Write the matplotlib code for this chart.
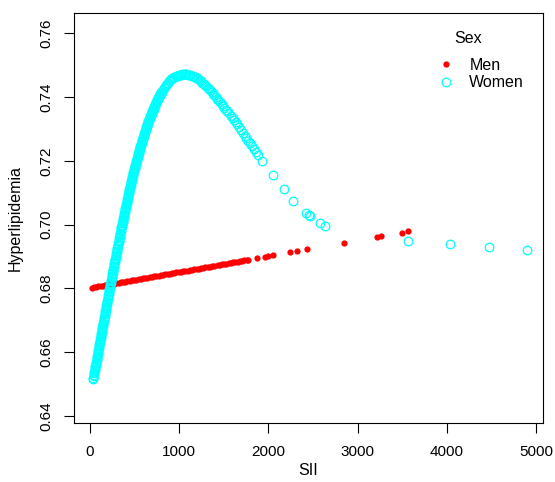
import numpy as np
import matplotlib
matplotlib.use('Agg')
import matplotlib.pyplot as plt

plt.rcParams['font.family'] = ['Liberation Sans', 'DejaVu Sans']

# DATA

men_x = [20, 45, 70, 95, 120, 145, 170, 195, 220, 245, 270, 295, 320, 345, 370, 395,
         420, 445, 470, 495, 520, 545, 570, 595, 620, 645, 670, 695, 720, 745, 770, 795,
         820, 845, 870, 895, 920, 945, 970, 995, 1020, 1045, 1070, 1095, 1120, 1145, 1170,
         1195, 1220, 1245, 1270, 1295, 1320, 1345, 1370, 1395, 1430, 1455, 1480, 1505, 1530,
         1555, 1580, 1605, 1630, 1655, 1680, 1705, 1730, 1755, 1775,
         1876, 1962, 2000, 2055, 2246, 2317, 2429, 2848, 3214, 3266, 3498, 3565]
men_y = [0.68030, 0.68042, 0.68055, 0.68067, 0.68080, 0.68092, 0.68104, 0.68117, 0.68129,
         0.68142, 0.68154, 0.68166, 0.68179, 0.68191, 0.68204, 0.68216, 0.68228, 0.68241,
         0.68253, 0.68266, 0.68278, 0.68290, 0.68303, 0.68315, 0.68328, 0.68340, 0.68352,
         0.68365, 0.68377, 0.68390, 0.68402, 0.68414, 0.68427, 0.68439, 0.68452, 0.68464,
         0.68476, 0.68489, 0.68501, 0.68514, 0.68526, 0.68538, 0.68551, 0.68563, 0.68576,
         0.68588, 0.68600, 0.68613, 0.68625, 0.68638, 0.68650, 0.68662, 0.68675, 0.68687,
         0.68700, 0.68712, 0.68729, 0.68742, 0.68754, 0.68766, 0.68779, 0.68791, 0.68804,
         0.68816, 0.68828, 0.68841, 0.68853, 0.68866, 0.68878, 0.68890, 0.68900,
         0.68950, 0.68993, 0.69012, 0.69039, 0.69134, 0.69169, 0.69225, 0.69433, 0.69614,
         0.69640, 0.69755, 0.69788]

women_x = [35, 38, 41, 44, 47, 50, 53, 56, 59, 62, 65, 68, 71, 74, 77, 80, 83, 86, 89, 92,
           95, 98, 101, 104, 107, 110, 113, 116, 119, 122, 125, 128, 131, 134, 137, 140, 143,
           146, 149, 152, 155, 158, 161, 164, 167, 170, 173, 176, 179, 182, 185, 188, 191,
           194, 197, 200, 203, 206, 209, 212, 215, 218, 221, 224, 227, 230, 233, 236, 239,
           242, 245, 248, 251, 254, 257, 260, 263, 266, 269, 272, 275, 278, 281, 284, 287,
           290, 293, 296, 299, 302, 305, 308, 311, 314, 317, 320, 323, 326, 329, 332, 335,
           338, 341, 344, 347, 350, 353, 356, 359, 362, 365, 368, 371, 374, 377, 380, 383,
           386, 389, 392, 395, 398, 401, 404, 407, 410, 413, 416, 419, 422, 425, 428, 431,
           434, 437, 440, 443, 446, 449, 452, 455, 458, 461, 464, 467, 470, 473, 476, 479,
           482, 485, 488, 491, 494, 497, 500, 503,
           506, 509, 512, 515, 518, 521, 524, 527, 530, 533, 536, 539, 542, 545, 548, 551,
           554, 557, 560, 563, 566, 569, 572, 575, 578, 581, 584, 587, 590, 593, 596, 599,
           602, 605, 608, 611, 614, 617, 620, 623, 626, 629, 632, 635, 638, 641, 644, 647,
           650, 653, 656, 659, 662, 665, 668, 671, 674, 677, 680, 683, 686, 689, 692, 695,
           698, 701, 704, 707, 710, 713, 716, 719, 722, 725, 728, 731, 734, 737, 740, 743,
           746, 749, 752, 755, 758, 761, 764, 767, 770, 773, 776, 779, 782, 785, 788, 791,
           794, 797, 800, 803,
           815, 827, 839, 851, 863, 875, 887, 899, 911, 923, 935, 947, 959, 971, 983, 995,
           1007, 1019, 1034, 1049, 1065,
           1080, 1095, 1110, 1125, 1140, 1155, 1170, 1185, 1200, 1215, 1230, 1245, 1260,
           1275, 1290, 1305, 1320, 1335, 1350, 1365, 1380, 1395,
           1410, 1425, 1440, 1458, 1475, 1490, 1505, 1522, 1540, 1560, 1580, 1600, 1615,
           1632, 1650, 1668, 1690, 1712, 1735, 1752, 1770, 1790, 1812, 1835, 1858, 1880,
           1932, 2055, 2175, 2280, 2421, 2451, 2466, 2578, 2638, 3569, 4032, 4470, 4899]
women_y = [0.65150, 0.65197, 0.65243, 0.65290, 0.65336, 0.65383, 0.65429, 0.65476, 0.65522,
           0.65569, 0.65615, 0.65662, 0.65708, 0.65755, 0.65801, 0.65848, 0.65894, 0.65941,
           0.65987, 0.66034, 0.66080, 0.66127, 0.66173, 0.66220, 0.66266, 0.66313, 0.66359,
           0.66406, 0.66452, 0.66499, 0.66545, 0.66592, 0.66638, 0.66685, 0.66731, 0.66778,
           0.66824, 0.66871, 0.66917, 0.66964, 0.67010, 0.67057, 0.67103, 0.67150, 0.67196,
           0.67243, 0.67289, 0.67336, 0.67382, 0.67429, 0.67475, 0.67522, 0.67568, 0.67615,
           0.67661, 0.67708, 0.67751, 0.67795, 0.67838, 0.67882, 0.67925, 0.67969, 0.68012,
           0.68056, 0.68099, 0.68143, 0.68186, 0.68230, 0.68273, 0.68317, 0.68360, 0.68404,
           0.68447, 0.68491, 0.68534, 0.68578, 0.68621, 0.68665, 0.68708, 0.68752, 0.68795,
           0.68839, 0.68882, 0.68926, 0.68969, 0.69013, 0.69056, 0.69100, 0.69143, 0.69187,
           0.69230, 0.69274, 0.69317, 0.69361, 0.69404, 0.69448, 0.69491, 0.69535, 0.69578,
           0.69622, 0.69665, 0.69709, 0.69752, 0.69796, 0.69839, 0.69883, 0.69923, 0.69962,
           0.70002, 0.70041, 0.70081, 0.70121, 0.70160, 0.70200, 0.70239, 0.70279, 0.70319,
           0.70358, 0.70398, 0.70437, 0.70477, 0.70517, 0.70556, 0.70596, 0.70635, 0.70675,
           0.70715, 0.70754, 0.70794, 0.70833, 0.70873, 0.70913, 0.70952, 0.70992, 0.71031,
           0.71071, 0.71111, 0.71150, 0.71190, 0.71225, 0.71260, 0.71295, 0.71330, 0.71366,
           0.71401, 0.71436, 0.71471, 0.71506, 0.71541, 0.71576, 0.71611, 0.71646, 0.71681,
           0.71716, 0.71752, 0.71787, 0.71822,
           0.71854, 0.71885, 0.71917, 0.71948, 0.71980, 0.72011, 0.72043, 0.72074, 0.72106,
           0.72137, 0.72169, 0.72200, 0.72232, 0.72263, 0.72295, 0.72326, 0.72353, 0.72380,
           0.72407, 0.72434, 0.72461, 0.72488, 0.72515, 0.72542, 0.72569, 0.72596, 0.72623,
           0.72650, 0.72677, 0.72704, 0.72731, 0.72758, 0.72785, 0.72812, 0.72839, 0.72866,
           0.72893, 0.72920, 0.72947, 0.72974, 0.73001, 0.73028, 0.73055, 0.73082, 0.73109,
           0.73136, 0.73163, 0.73190, 0.73211, 0.73231, 0.73252, 0.73272, 0.73293, 0.73313,
           0.73334, 0.73354, 0.73375, 0.73395, 0.73416, 0.73436, 0.73457, 0.73477, 0.73498,
           0.73518, 0.73539, 0.73559, 0.73580, 0.73600, 0.73621, 0.73641, 0.73662, 0.73682,
           0.73703, 0.73723, 0.73744, 0.73764, 0.73785, 0.73805, 0.73826, 0.73846, 0.73867,
           0.73887, 0.73903, 0.73919, 0.73935, 0.73951, 0.73967, 0.73983, 0.73999, 0.74015,
           0.74031, 0.74047, 0.74063, 0.74079, 0.74095, 0.74111, 0.74127, 0.74143, 0.74159,
           0.74175,
           0.7423, 0.7428, 0.7433, 0.7438, 0.7442, 0.7446, 0.7450, 0.7453, 0.7456, 0.7459,
           0.7461, 0.7463, 0.7465, 0.7467, 0.7468, 0.7469, 0.7470, 0.7471, 0.7472, 0.7472,
           0.7472,
           0.7472, 0.7471, 0.7470, 0.7469, 0.7468, 0.7466, 0.7464, 0.7462, 0.7459, 0.7456,
           0.7453, 0.7450, 0.7446, 0.7442, 0.7438, 0.7434, 0.7430, 0.7425, 0.7421, 0.7416,
           0.7411, 0.7406,
           0.7401, 0.7395, 0.7390, 0.7384, 0.7378, 0.7373, 0.7367, 0.7361, 0.7356, 0.7349,
           0.7342, 0.7335, 0.7328, 0.7322, 0.7315, 0.7307, 0.7298, 0.7289, 0.7279, 0.7272,
           0.7264, 0.7255, 0.7246, 0.7236, 0.7227, 0.7218,
           0.7201, 0.7156, 0.7111, 0.7075, 0.7038, 0.7031, 0.7027, 0.7004, 0.6996, 0.6950,
           0.6939, 0.6929, 0.6921]

x_ticks = [0, 1000, 2000, 3000, 4000, 5000]
y_ticks = [0.64, 0.66, 0.68, 0.70, 0.72, 0.74, 0.76]

# FIGURE

fig = plt.figure(figsize=(5.55, 4.82), dpi=100)
ax = fig.add_axes([0.1333, 0.1224, 0.8451, 0.8506])

ax.plot(men_x, men_y, 'o', color='#ff0000', markersize=4.5, markeredgewidth=0, label='Men')
ax.plot(women_x, women_y, 'o', markerfacecolor='none', markeredgecolor='#00ffff',
        markersize=6.2, markeredgewidth=0.9, label='Women')

ax.set_xlim(-179, 5078)
ax.set_ylim(0.6378, 0.7664)
ax.set_xticks(x_ticks)
ax.set_xticklabels([str(t) for t in x_ticks], fontsize=11)
ax.set_yticks(y_ticks)
ax.set_yticklabels(['%.2f' % t for t in y_ticks], fontsize=11, rotation=90, va='center')
ax.tick_params(direction='out', length=7, width=0.8)
ax.tick_params(axis='x', pad=9)
ax.tick_params(axis='y', pad=8)
for s in ax.spines.values():
    s.set_linewidth(0.8)

ax.set_xlabel('SII', fontsize=11.5, labelpad=3)
ax.set_ylabel('Hyperlipidemia', fontsize=11.5, labelpad=12)

ax.legend(frameon=False, loc='upper left', bbox_to_anchor=(0.776, 0.891),
          fontsize=11.5, handletextpad=0.96, labelspacing=0.15,
          handlelength=1.0, borderpad=0, borderaxespad=0)
ax.text(0.8394, 0.9383, 'Sex', transform=ax.transAxes, fontsize=11.5,
        ha='center', va='center')

fig.savefig('out.png', dpi=100)
